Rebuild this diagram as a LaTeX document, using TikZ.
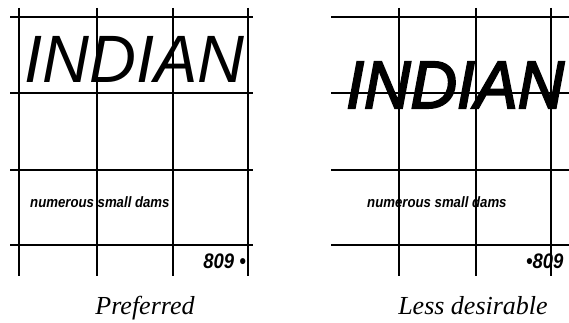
\documentclass[tikz,border=0pt]{standalone}
\usepackage{fontspec}
\setmainfont{Liberation Serif}
\newfontfamily\signfont[FakeStretch=0.97]{Liberation Sans}
\newfontfamily\signheavy[FakeStretch=0.96,FakeBold=3]{Liberation Sans}
\newfontfamily\narrowfont[FakeStretch=0.88]{Liberation Sans}
\usetikzlibrary{positioning}

\begin{document}
\begin{tikzpicture}[
 x=1pt,y=-1pt,
 g/.style={line width=1.4pt,draw=black},
 big/.style={inner sep=0pt,anchor=base west,font=\signfont\itshape\fontsize{67}{67}\selectfont},
 bigb/.style={inner sep=0pt,anchor=base west,font=\signheavy\itshape\fontsize{67}{67}\selectfont},
 lab/.style={inner sep=0pt,anchor=base west,font=\narrowfont\bfseries\itshape\fontsize{15}{15}\selectfont},
 num/.style={inner sep=0pt,font=\narrowfont\bfseries\itshape\fontsize{21}{21}\selectfont},
 caption/.style={inner sep=0pt,anchor=base,font=\itshape\fontsize{26}{26}\selectfont}
]
\useasboundingbox (0,0) rectangle (569,323);
% left panel
\foreach \y in {17,93,170,245} \draw[g] (10,\y)--(253,\y);
\foreach \x in {19,97,173,248} \draw[g] (\x,8)--(\x,276);
\node[big] (nameL) at (24,83) {INDIAN};
\node[lab] (damsL) at (30,207) {numerous small dams};
\node[num,anchor=base east] (mileL) at (246,268) {809 •};
\node[caption] (capL) at (145,314) {Preferred};
% right panel
\foreach \y in {17,93,170,245} \draw[g] (331,\y)--(569,\y);
\foreach \x in {399,476,551} \draw[g] (\x,8)--(\x,276);
\node[bigb] (nameR) at (346,108) {INDIAN};
\node[lab] (damsR) at (367,207) {numerous small dams};
\node[num,anchor=base west] (mileR) at (526,268) {•809};
\node[caption] (capR) at (473,314) {Less desirable};
\end{tikzpicture}
\end{document}
